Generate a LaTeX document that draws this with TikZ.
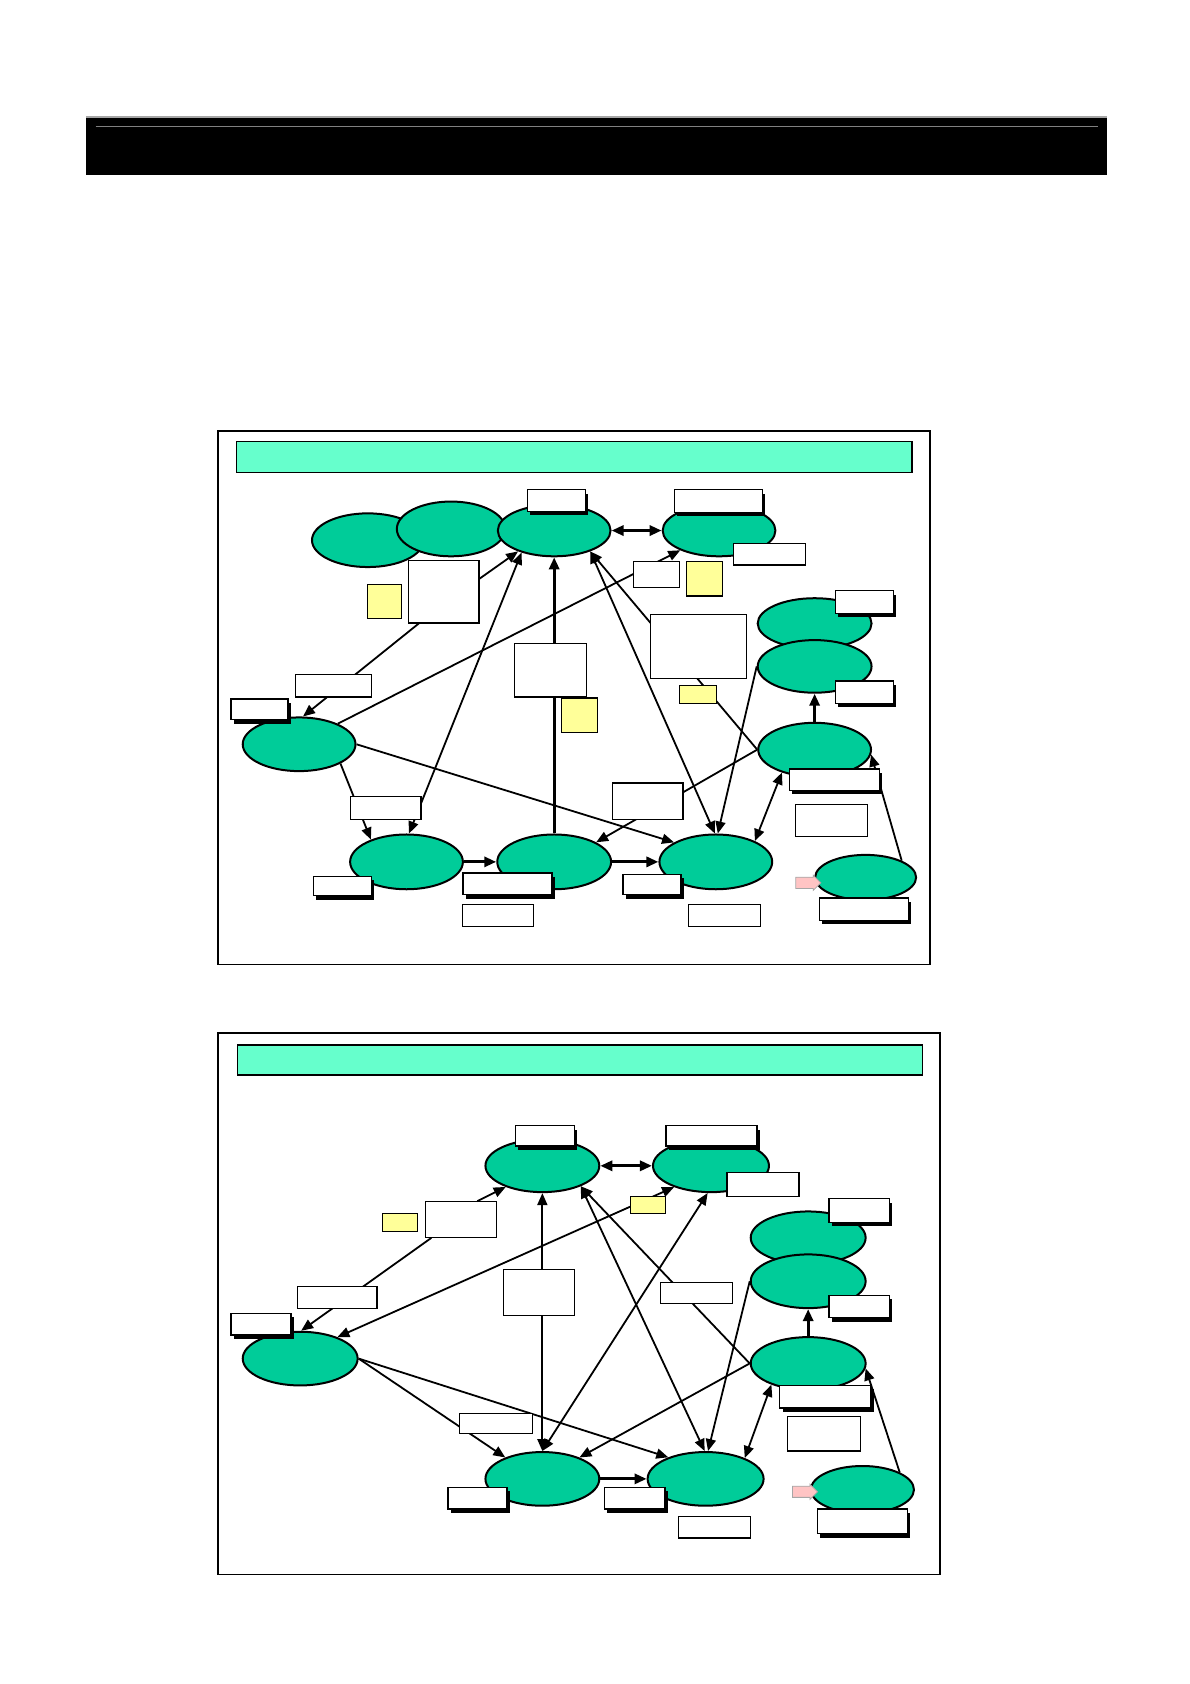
\documentclass[tikz,border=0pt]{standalone}
\usepackage{tikz}
\usetikzlibrary{arrows.meta, positioning, shapes.geometric, shapes.arrows, shadows, fit}
\definecolor{blobgreen}{RGB}{0,204,153}
\definecolor{hdrgreen}{RGB}{102,255,204}
\definecolor{memoyel}{RGB}{255,255,153}
\definecolor{pinkish}{RGB}{255,196,196}
\tikzset{
  ell/.style={ellipse, draw, line width=1pt, fill=blobgreen, inner sep=0pt},
  sz/.style 2 args={minimum width=#1*0.537pt, minimum height=#2*0.537pt},
  note/.style={draw, fill=white, line width=0.6pt, inner sep=0pt},
  tag/.style={note, line width=0.7pt, drop shadow={shadow xshift=1.4pt, shadow yshift=-2pt, fill=black, opacity=1}},
  memo/.style={note, fill=memoyel},
  lnk/.style={-{Triangle[length=6pt,width=5pt]}, line width=0.9pt},
  dlnk/.style={{Triangle[length=6pt,width=5pt]}-{Triangle[length=6pt,width=5pt]}, line width=0.9pt},
  blnk/.style={lnk, line width=1.5pt},
  dblnk/.style={dlnk, line width=1.5pt},
  frm/.style={draw, line width=0.9pt},
  hdr/.style={draw, fill=hdrgreen, line width=0.7pt},
  pk/.style={single arrow, draw=gray!70, fill=pinkish, line width=0.4pt, inner xsep=0pt, inner ysep=2.6pt,
    minimum height=12.5pt, minimum width=7.5pt, single arrow head extend=1pt}
}

\begin{document}
\begin{tikzpicture}[x=0.537pt, y=-0.537pt]
\useasboundingbox (0,0) rectangle (1108,1568);

% title bar
\fill[black] (80,109) rectangle (1031,163);
\draw[gray!70, line width=0.6pt] (80,109) -- (1031,109);
\draw[gray, line width=0.5pt] (89,118) -- (1022,118);

% upper picture
\draw[frm] (203,401) rectangle (866,898);
\draw[hdr] (220,411) rectangle (849,440);
\node[ell, sz={104}{50}] (ea) at (342.5,503) {};
\node[ell, sz={101}{51}] (eb) at (420,492.5) {};
\node[ell, sz={105}{48}] (ta) at (516,494) {};
\node[ell, sz={105}{48}] (tb) at (669.5,494) {};
\node[ell, sz={106}{47}] (ra) at (758.5,580.5) {};
\node[ell, sz={106}{49}] (rb) at (758.5,620.5) {};
\node[ell, sz={105}{50}] (rc) at (758.5,698) {};
\node[ell, sz={94}{42}] (rd) at (806,817) {};
\node[ell, sz={105}{50}] (la) at (278.5,693) {};
\node[ell, sz={105}{51}] (ba) at (378.5,802.5) {};
\node[ell, sz={106}{51}] (bb) at (516,802.5) {};
\node[ell, sz={105}{51}] (bc) at (666.5,802.5) {};
\node[note, fit={(380,522)(446,580)}] (pa) {};

\draw[dblnk] (ta.east) -- (tb.west);
\draw[lnk] (pa.20) -- (ta.-150);
\draw[lnk] (pa.-128) -- (la.82);
\draw[lnk] (la.28) -- (tb.-153);
\draw[dlnk] (ba.85) -- (ta.-146);
\draw[lnk] (la.-25) -- (ba.148);
\draw[blnk] (bb.north) -- (ta.south);
\draw[dlnk] (ta.-30) -- (bc.92);
\draw[lnk] (rc.west) -- (ta.-30);
\draw[lnk] (rb.west) -- (bc.86);
\draw[lnk] (rc.west) -- (bb.25);
\draw[lnk] (la.east) -- (bc.155);
\draw[blnk] (ba.east) -- (bb.west);
\draw[blnk] (bb.east) -- (bc.west);
\draw[blnk] (rc.north) -- (rb.south);
\draw[dlnk] (bc.28) -- (rc.-145);
\draw[lnk] (rd.25) -- (rc.-5);

\node[note, fit={(326,742)(392,763)}] (na) {};
\node[note, fit={(275,628)(346,649)}] (nb) {};
\node[note, fit={(590,523)(633,547)}] (nc) {};
\node[note, fit={(479,599)(546,649)}] (nd) {};
\node[note, fit={(570,729)(636,763)}] (ne) {};
\node[note, fit={(606,572)(695,632)}] (pb) {};
\node[note, fit={(683,506)(750,526)}] (nf) {};
\node[note, fit={(741,749)(808,779)}] (ng) {};
\node[note, fit={(431,842)(497,863)}] (nh) {};
\node[note, fit={(641,842)(708,863)}] (ni) {};
\node[memo, fit={(342,544)(374,576)}] (ma) {};
\node[memo, fit={(639,523)(673,555)}] (mb) {};
\node[memo, fit={(633,638)(667,655)}] (mc) {};
\node[memo, fit={(523,650)(556,682)}] (md) {};
\node[tag, fit={(491,456)(545,476)}] (ga) {};
\node[tag, fit={(628,456)(710,477)}] (gb) {};
\node[tag, fit={(778,550)(832,571)}] (gc) {};
\node[tag, fit={(778,634)(832,655)}] (gd) {};
\node[tag, fit={(215,651)(268,670)}] (ge) {};
\node[tag, fit={(735,716)(819,736)}] (gf) {};
\node[tag, fit={(292,816)(346,834)}] (gg) {};
\node[tag, fit={(431,813)(514,833)}] (gh) {};
\node[tag, fit={(580,814)(634,833)}] (gi) {};
\node[tag, fit={(763,836)(846,857)}] (gj) {};
\node[pk] (ka) at (750,822) {};

% lower picture
\draw[frm] (203,962) rectangle (875,1466);
\draw[hdr] (221,973) rectangle (859,1001);
\node[ell, sz={106}{49}] (tc) at (505,1085.5) {};
\node[ell, sz={108}{49}] (td) at (662,1085.5) {};
\node[ell, sz={107}{49}] (re) at (752.5,1152.5) {};
\node[ell, sz={107}{50}] (rf) at (752.5,1193) {};
\node[ell, sz={107}{49}] (rg) at (752.5,1269.5) {};
\node[ell, sz={96}{44}] (rh) at (803,1387) {};
\node[ell, sz={107}{50}] (lb) at (279.5,1265) {};
\node[ell, sz={106}{50}] (bd) at (505,1377) {};
\node[ell, sz={108}{50}] (be) at (657,1377) {};
\node[note, fit={(396,1119)(462,1152)}] (pc) {};

\draw[dblnk] (tc.east) -- (td.west);
\draw[lnk] (pc.48) -- (tc.-150);
\draw[lnk] (pc.-148) -- (lb.88);
\draw[dlnk] (lb.30) -- (td.-150);
\draw[dlnk] (bd.north) -- (tc.south);
\draw[dlnk] (bd.north) -- (td.-97);
\draw[dlnk] (tc.-28) -- (be.92);
\draw[lnk] (rg.west) -- (tc.-28);
\draw[lnk] (rf.west) -- (be.85);
\draw[lnk] (rg.west) -- (bd.30);
\draw[lnk] (lb.east) -- (bd.150);
\draw[lnk] (lb.east) -- (be.150);
\draw[blnk] (bd.east) -- (be.west);
\draw[blnk] (rg.north) -- (rf.south);
\draw[dlnk] (be.28) -- (rg.-150);
\draw[lnk] (rh.25) -- (rg.-5);

\node[note, fit={(277,1198)(351,1218)}] (nj) {};
\node[note, fit={(469,1182)(535,1225)}] (nk) {};
\node[note, fit={(615,1194)(682,1214)}] (nl) {};
\node[note, fit={(677,1092)(744,1114)}] (nm) {};
\node[note, fit={(733,1319)(801,1351)}] (nn) {};
\node[note, fit={(428,1316)(496,1335)}] (no) {};
\node[note, fit={(632,1412)(699,1432)}] (np) {};
\node[memo, fit={(356,1130)(389,1147)}] (me) {};
\node[memo, fit={(587,1114)(620,1130)}] (mf) {};
\node[tag, fit={(480,1048)(535,1067)}] (gk) {};
\node[tag, fit={(620,1048)(705,1067)}] (gl) {};
\node[tag, fit={(772,1116)(828,1138)}] (gm) {};
\node[tag, fit={(772,1206)(828,1227)}] (gn) {};
\node[tag, fit={(215,1223)(271,1243)}] (go) {};
\node[tag, fit={(726,1290)(811,1311)}] (gp) {};
\node[tag, fit={(417,1385)(472,1405)}] (gq) {};
\node[tag, fit={(563,1385)(619,1405)}] (gr) {};
\node[tag, fit={(761,1405)(845,1428)}] (gs) {};
\node[pk] (kb) at (747,1389) {};
\end{tikzpicture}
\end{document}
